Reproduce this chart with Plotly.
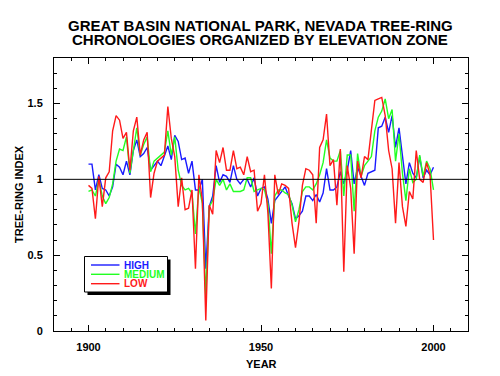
import plotly.graph_objects as go

years = list(range(1900, 2001))

high = [1.10, 1.10, 0.93, 1.03, 0.94, 0.93, 0.89, 0.95, 1.10, 1.08,
        1.03, 1.12, 1.03, 1.19, 1.26, 1.15, 1.17, 1.21, 1.06, 1.09,
        1.12, 1.09, 1.15, 1.22, 1.13, 1.29, 1.25, 1.13, 1.14, 1.04,
        1.12, 0.93, 0.93, 1.00, 0.41, 0.82, 0.89, 1.09, 0.98, 1.03,
        1.02, 0.98, 1.09, 1.00, 0.97, 1.00, 1.00, 0.95, 1.01, 0.89,
        0.94, 0.95, 0.87, 0.71, 0.86, 0.89, 0.92, 0.95, 0.89, 0.84,
        0.74, 0.76, 0.79, 0.89, 0.89, 0.86, 0.90, 0.85, 0.91, 1.07,
        0.93, 0.93, 0.95, 1.05, 0.97, 1.06, 1.19, 0.97, 1.08, 1.02,
        0.96, 1.04, 1.05, 1.06, 1.34, 1.35, 1.41, 1.31, 1.42, 1.21,
        1.34, 1.14, 0.97, 1.11, 1.04, 1.01, 1.15, 1.01, 1.06, 1.03,
        1.08]

medium = [0.92, 0.93, 0.89, 1.00, 0.89, 0.84, 0.88, 0.97, 1.12, 1.20,
          1.19, 1.28, 1.04, 1.20, 1.34, 1.16, 1.23, 1.28, 1.05, 1.12,
          1.14, 1.16, 1.18, 1.32, 1.16, 1.28, 1.06, 0.96, 0.93, 0.94,
          0.91, 0.64, 0.95, 0.84, 0.23, 0.82, 0.86, 1.00, 0.96, 1.00,
          0.93, 0.97, 0.92, 0.92, 0.92, 0.93, 1.01, 1.01, 0.92, 0.93,
          0.94, 0.93, 0.84, 0.51, 0.89, 0.93, 0.93, 0.91, 0.90, 0.83,
          0.72, 0.80, 0.92, 0.95, 0.95, 0.93, 0.97, 1.03, 1.11, 1.26,
          1.14, 1.12, 1.12, 1.19, 0.89, 1.16, 1.16, 0.79, 1.17, 1.02,
          1.09, 1.12, 1.15, 1.32, 1.41, 1.45, 1.53, 1.40, 1.46, 1.12,
          1.30, 1.04, 0.86, 1.07, 0.98, 1.00, 1.16, 1.02, 1.12, 1.07,
          0.93]

low = [0.96, 0.94, 0.74, 1.02, 0.82, 1.01, 1.05, 1.32, 1.42, 1.39,
       1.27, 1.31, 1.06, 1.32, 1.41, 1.16, 1.26, 1.31, 0.88, 1.04,
       1.12, 1.14, 1.16, 1.48, 1.27, 1.15, 0.82, 1.01, 0.80, 0.81,
       0.93, 0.41, 1.03, 0.86, 0.07, 0.83, 0.77, 1.19, 1.11, 1.21,
       1.06, 1.06, 1.19, 1.07, 1.08, 1.03, 1.15, 1.05, 1.06, 0.79,
       0.84, 1.03, 0.78, 0.28, 1.03, 0.90, 0.97, 0.96, 0.94, 0.71,
       0.55, 0.72, 0.96, 1.07, 1.06, 1.03, 0.71, 1.21, 1.26, 1.43,
       1.09, 1.13, 0.83, 1.20, 0.39, 1.09, 0.94, 0.51, 1.12, 1.01,
       1.15, 1.13, 1.34, 1.52, 1.53, 1.54, 1.42, 1.19, 1.07, 0.71,
       1.11, 0.82, 0.69, 0.92, 0.87, 1.19, 1.00, 0.98, 1.11, 1.03,
       0.60]

series_names = ["HIGH", "MEDIUM", "LOW"]
series_colors = ["#1a1aff", "#22ff22", "#ff1a1a"]
x_ticks = [1900, 1950, 2000]
y_ticks = [0, 0.5, 1, 1.5]
y_ticklabels = ["0", "0.5", "1", "1.5"]
title_lines = ["GREAT BASIN NATIONAL PARK, NEVADA TREE-RING",
               "CHRONOLOGIES ORGANIZED BY ELEVATION ZONE"]

W, H = 500, 376
L, R, T, B = 54, 468, 58, 331
FONT = "Liberation Sans, Arial, Helvetica, sans-serif"


def px(xp):
    return (xp - L) / (R - L)


def py(yp):
    return (B - yp) / (B - T)


fig = go.Figure()
for name, vals, col in zip(series_names, [high, medium, low], series_colors):
    fig.add_trace(go.Scatter(x=years, y=vals, mode="lines", name=name,
                             line=dict(color=col, width=1.4),
                             showlegend=False))

axis_common = dict(showline=True, linecolor="black", linewidth=1,
                   mirror="ticks", ticks="inside", tickcolor="black",
                   showgrid=False, zeroline=False,
                   tickfont=dict(family=FONT, size=11, color="black",
                                 weight="bold"))

fig.update_xaxes(range=[1890, 2010], tickvals=x_ticks, ticklen=6,
                 minor=dict(dtick=5, tick0=1900, ticklen=3, ticks="inside",
                            tickcolor="black"),
                 ticklabelstandoff=6, **axis_common)
fig.update_yaxes(range=[0, 1.8], tickvals=y_ticks, ticktext=y_ticklabels,
                 ticklen=6,
                 minor=dict(dtick=0.1, tick0=0, ticklen=3, ticks="inside",
                            tickcolor="black"),
                 ticklabelstandoff=8, **axis_common)

shapes = [
    dict(type="line", xref="paper", yref="y", x0=0, x1=1, y0=1, y1=1,
         line=dict(color="black", width=1), layer="above"),
    # legend shadow and box
    dict(type="rect", xref="paper", yref="paper", x0=px(87.5), x1=px(170.5),
         y0=py(295), y1=py(259.5), fillcolor="black",
         line=dict(color="black", width=0), layer="above"),
    dict(type="rect", xref="paper", yref="paper", x0=px(84.5), x1=px(167.5),
         y0=py(292), y1=py(256.5), fillcolor="white",
         line=dict(color="black", width=1), layer="above"),
]
legend_y = [265, 274.3, 283.7]
annotations = []
for name, col, ly in zip(series_names, series_colors, legend_y):
    shapes.append(dict(type="line", xref="paper", yref="paper",
                       x0=px(91), x1=px(119.5), y0=py(ly), y1=py(ly),
                       line=dict(color=col, width=1.4), layer="above"))
    annotations.append(dict(text="<b>" + name + "</b>", xref="paper",
                            yref="paper", x=px(122), y=py(ly),
                            xanchor="left", yanchor="middle",
                            showarrow=False,
                            font=dict(family=FONT, size=10, color=col)))

for line, cy in zip(title_lines, [25.5, 39]):
    annotations.append(dict(text="<b>" + line + "</b>", xref="paper",
                            yref="paper", x=px(260), y=py(cy),
                            xanchor="center", yanchor="middle",
                            showarrow=False,
                            font=dict(family=FONT, size=15, color="black")))

annotations.append(dict(text="<b>YEAR</b>", xref="paper", yref="paper",
                        x=px(261), y=py(364), xanchor="center",
                        yanchor="middle", showarrow=False,
                        font=dict(family=FONT, size=11, color="black")))
annotations.append(dict(text="<b>TREE-RING INDEX</b>", xref="paper",
                        yref="paper", x=px(19), y=py(194), xanchor="center",
                        yanchor="middle", showarrow=False, textangle=-90,
                        font=dict(family=FONT, size=11, color="black")))

fig.update_layout(width=W, height=H,
                  margin=dict(l=L, r=W - R, t=T, b=H - B, pad=0),
                  paper_bgcolor="white", plot_bgcolor="white",
                  shapes=shapes, annotations=annotations,
                  showlegend=False)

fig.write_html("out.html", config={"displayModeBar": False},
               post_script="document.body.style.margin='0';"
                           "document.body.style.overflow='hidden';")
